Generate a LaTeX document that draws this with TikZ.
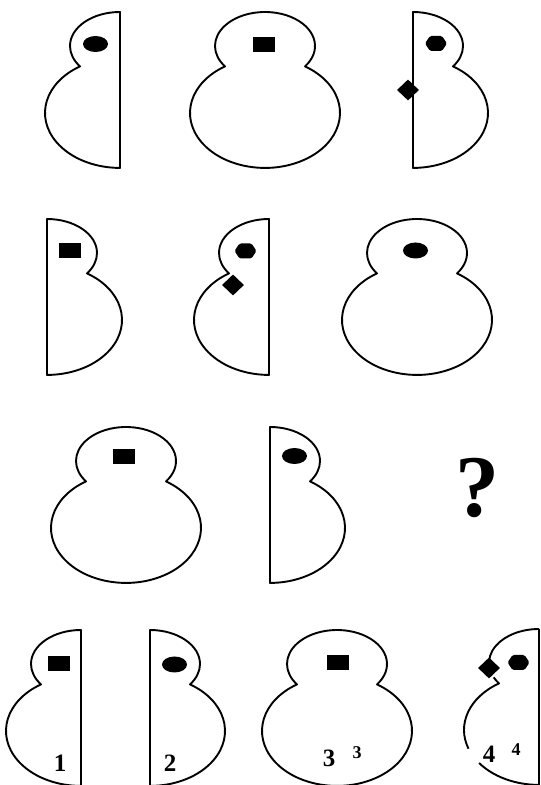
\documentclass[tikz,border=0pt]{standalone}
\usepackage{fontspec}
\setmainfont{Liberation Serif}
\usetikzlibrary{shapes.geometric}

% outline macros: #1 = centre x, #2 = top y
\newcommand{\fullfig}[2]{\draw[outline] (#1+40,#2-54.4) arc[start angle=-36.87,end angle=216.87,x radius=50,y radius=34] arc[start angle=122.23,end angle=417.77,x radius=75,y radius=55] -- cycle;}
\newcommand{\leftfig}[2]{\draw[outline] (#1,#2) arc[start angle=90,end angle=216.87,x radius=50,y radius=34] arc[start angle=122.23,end angle=270,x radius=75,y radius=55] -- cycle;}
\newcommand{\rightfig}[2]{\draw[outline] (#1,#2) arc[start angle=90,end angle=-36.87,x radius=50,y radius=34] arc[start angle=57.77,end angle=-90,x radius=75,y radius=55] -- cycle;}

\begin{document}
\begin{tikzpicture}[x=1pt,y=1pt,
    outline/.style={line width=1.9pt,line join=round},
    eye/.style={ellipse,fill,inner sep=0pt,minimum width=25pt,minimum height=16pt},
    block/.style={rectangle,fill,inner sep=0pt,minimum width=22pt,minimum height=15pt},
    gem/.style={diamond,fill,inner sep=0pt,minimum width=22pt,minimum height=21pt},
    hexa/.pic={\fill[rounded corners=1.5pt] (-11,0) -- (-6,7.5) -- (6,7.5) -- (11,0) -- (6,-7.5) -- (-6,-7.5) -- cycle;},
    num/.style={font=\fontsize{25}{25}\selectfont\bfseries,anchor=base,inner sep=0pt},
    small/.style={font=\fontsize{18}{18}\selectfont\bfseries,anchor=base,inner sep=0pt}]
  \useasboundingbox (0,0) rectangle (541,785);

  % row 1
  \leftfig{120}{773}
  \fullfig{265}{773}
  \rightfig{413}{773}
  \node[eye] (e11) at (95.5,741) {};
  \node[block] (b12) at (264,740.5) {};
  \pic (h13) at (436,741.5) {hexa};
  \node[gem] (g13) at (408,695) {};

  % row 2
  \rightfig{47}{566}
  \leftfig{269}{566}
  \fullfig{417}{566}
  \node[block] (b21) at (69.5,534) {};
  \pic (h22) at (245.5,534) {hexa};
  \node[gem] (g22) at (233,500) {};
  \node[eye] (e23) at (415.5,534.5) {};

  % row 3
  \fullfig{126}{358}
  \rightfig{270}{358}
  \node[block] (b31) at (124,328.5) {};
  \node[eye] (e32) at (294.5,329) {};
  \node[font=\fontsize{88}{88}\selectfont\bfseries,anchor=base,inner sep=0pt] (ask) at (477,268) {?};

  % row 4: answers
  \leftfig{81}{155}
  \rightfig{150}{155}
  \fullfig{337}{155}
  \node[block] (b41) at (59,121) {};
  \node[eye] (e42) at (174.5,120.5) {};
  \node[block] (b43) at (338,122.5) {};
  % broken outline of the fourth
  \draw[outline] (539,156) arc[start angle=90,end angle=185,x radius=50,y radius=34];
  \draw[outline] ([shift={(205:50 and 34)}]539,122) arc[start angle=205,end angle=216.87,x radius=50,y radius=34] arc[start angle=122.23,end angle=200,x radius=75,y radius=55];
  \draw[outline] ([shift={(217:75 and 55)}]539,55.1) arc[start angle=217,end angle=270,x radius=75,y radius=55] -- (539,156);
  \node[gem] (g44) at (489,117) {};
  \pic (h44) at (518.5,122.5) {hexa};

  \node[num] (n1) at (60,13) {1};
  \node[num] (n2) at (170,13) {2};
  \node[num] (n3) at (329,18) {3};
  \node[small] (m3) at (357,27) {3};
  \node[num] (n4) at (489,23) {4};
  \node[small] (m4) at (516,30) {4};
\end{tikzpicture}
\end{document}
